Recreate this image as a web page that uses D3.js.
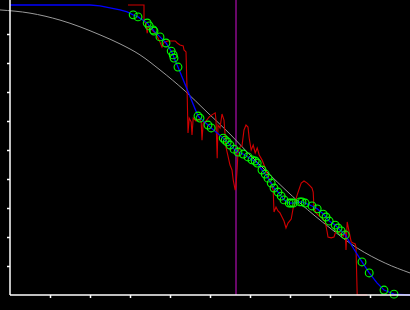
<!DOCTYPE html>
<html>
<head>
<meta charset="utf-8">
<script src="https://cdn.jsdelivr.net/npm/d3@7"></script>
<style>
  html, body { margin: 0; padding: 0; background: #000; }
  #chart svg { display: block; }
</style>
</head>
<body>
<div id="chart"></div>
<script>
// curva de referencia (gris)
const curvaRef = [
  [-0.25, 9.83], [0.5, 9.72], [1.25, 9.48], [2.25, 8.97], [2.75, 8.66],
  [3.25, 8.28], [3.75, 7.76], [4.38, 7.03], [4.9, 6.34], [5.5, 5.55],
  [5.88, 5.0], [6.5, 4.14], [7.25, 3.17], [8.0, 2.31], [8.68, 1.62],
  [9.38, 1.10], [10, 0.76]
];

// serie ruidosa (roja)
const serieRoja = [
  [2.95, 10], [3.35, 10], [3.35, 9.45], [3.4, 9.34], [3.43, 9.03], [3.45, 9.24],
  [3.53, 9.17], [3.58, 9.1], [3.65, 9.0], [3.7, 8.86], [3.75, 8.72], [3.8, 8.55],
  [3.85, 8.72], [3.95, 8.76], [4.13, 8.76], [4.18, 8.69], [4.25, 8.62], [4.33, 8.59],
  [4.35, 8.45], [4.4, 8.38], [4.43, 6.9], [4.45, 5.59], [4.48, 6.1], [4.53, 5.97],
  [4.55, 5.52], [4.58, 6.1], [4.65, 6.0], [4.73, 6.07], [4.78, 5.97], [4.8, 5.34],
  [4.83, 5.93], [4.9, 6.0], [4.98, 6.14], [5.05, 6.21], [5.13, 6.28], [5.15, 6.03],
  [5.18, 4.72], [5.2, 5.86], [5.25, 5.76], [5.3, 6.24], [5.35, 6.03], [5.4, 5.1],
  [5.45, 4.79], [5.5, 4.48], [5.55, 4.31], [5.58, 3.97], [5.63, 3.62], [5.65, 3.76],
  [5.68, 4.38], [5.7, 4.93], [5.75, 5.1], [5.8, 5.14], [5.85, 5.69], [5.9, 5.86],
  [5.95, 5.79], [5.98, 5.41], [6.03, 5.0], [6.08, 5.17], [6.13, 4.9], [6.18, 5.07],
  [6.23, 4.83], [6.3, 4.66], [6.38, 4.38], [6.45, 4.1], [6.53, 3.83], [6.58, 3.62],
  [6.6, 2.86], [6.65, 3.03], [6.7, 2.9], [6.75, 2.83], [6.8, 2.69], [6.85, 2.55],
  [6.9, 2.31], [6.95, 2.48], [7.03, 2.62], [7.08, 3.0], [7.13, 3.21], [7.18, 3.45],
  [7.23, 3.66], [7.28, 3.86], [7.35, 3.93], [7.43, 3.86], [7.5, 3.76], [7.55, 3.69],
  [7.58, 3.55], [7.6, 3.0], [7.65, 2.83], [7.73, 2.72], [7.8, 2.66], [7.88, 2.52],
  [7.93, 2.17], [7.95, 2.0], [8.03, 1.97], [8.1, 2.0], [8.15, 2.21], [8.2, 2.17],
  [8.25, 2.14], [8.33, 2.03], [8.38, 2.24], [8.4, 1.55], [8.43, 2.52], [8.48, 2.17],
  [8.53, 1.83], [8.58, 1.79], [8.63, 1.76], [8.65, 1.66], [8.68, 0], [8.93, 0]
];

// observaciones (círculos verdes)
const observados = [
  [3.08, 9.66], [3.2, 9.59], [3.43, 9.38], [3.48, 9.28], [3.58, 9.14], [3.6, 9.1],
  [3.75, 8.9], [3.9, 8.69], [4.03, 8.41], [4.08, 8.28], [4.1, 8.17], [4.2, 7.86],
  [4.7, 6.17], [4.75, 6.1], [4.95, 5.86], [5.03, 5.76], [5.33, 5.41], [5.38, 5.34],
  [5.43, 5.28], [5.5, 5.17], [5.6, 5.03], [5.7, 4.93], [5.83, 4.86], [5.95, 4.76],
  [6.05, 4.66], [6.13, 4.62], [6.18, 4.55], [6.3, 4.31], [6.38, 4.17], [6.45, 4.03],
  [6.53, 3.86], [6.6, 3.69], [6.7, 3.55], [6.78, 3.41], [6.85, 3.28], [6.98, 3.17],
  [7.03, 3.17], [7.08, 3.17], [7.25, 3.21], [7.3, 3.21], [7.38, 3.17], [7.55, 3.07],
  [7.68, 2.97], [7.83, 2.79], [7.9, 2.69], [7.98, 2.55], [8.13, 2.41], [8.2, 2.31],
  [8.28, 2.21], [8.38, 2.07], [8.8, 1.14], [8.98, 0.76], [9.35, 0.17], [9.6, 0.03]
];

// tramos del ajuste (azul) fuera de las observaciones
const ajusteInicio = [[0, 10], [2, 10], [2.25, 9.97], [2.5, 9.9], [2.75, 9.83], [2.93, 9.76]];
const ajusteFinal = [[8.58, 1.62], [9.18, 0.41], [10, 0]];

const marcaVertical = 5.65;
const ticksX = [1, 2, 3, 4, 5, 6, 7, 8, 9];
const ticksY = [1, 2, 3, 4, 5, 6, 7, 8, 9];

const width = 410;
const height = 310;
const x0 = 10;
const yBase = 295;

const x = d3.scaleLinear().domain([0, 10]).range([x0, 410]);
const y = d3.scaleLinear().domain([0, 10]).range([yBase, 5]);

const svg = d3.select("#chart")
  .append("svg")
  .attr("width", width)
  .attr("height", height);

svg.append("rect")
  .attr("width", width)
  .attr("height", height)
  .attr("fill", "#000");

// línea vertical morada
svg.append("line")
  .attr("x1", x(marcaVertical)).attr("x2", x(marcaVertical))
  .attr("y1", 0).attr("y2", y(0))
  .attr("stroke", "#8b0a8b")
  .attr("stroke-width", 1.5);

const linea = d3.line()
  .x(d => x(d[0]))
  .y(d => y(d[1]));

svg.append("path")
  .datum(curvaRef)
  .attr("fill", "none")
  .attr("stroke", "#9a9a9a")
  .attr("stroke-width", 1)
  .attr("d", linea.curve(d3.curveMonotoneX));

svg.append("path")
  .datum(serieRoja)
  .attr("fill", "none")
  .attr("stroke", "#d00000")
  .attr("stroke-width", 1.1)
  .attr("d", d3.line().x(d => x(d[0])).y(d => y(d[1])));

const ajuste = ajusteInicio.concat(observados, ajusteFinal).sort((a, b) => a[0] - b[0]);

svg.append("path")
  .datum(ajuste)
  .attr("fill", "none")
  .attr("stroke", "#0000ff")
  .attr("stroke-width", 1.3)
  .attr("d", d3.line().x(d => x(d[0])).y(d => y(d[1])));

svg.append("g")
  .selectAll("circle")
  .data(observados)
  .join("circle")
  .attr("cx", d => x(d[0]))
  .attr("cy", d => y(d[1]))
  .attr("r", 3.9)
  .attr("fill", "none")
  .attr("stroke", "#00ff00")
  .attr("stroke-width", 1.1);

// ejes
const ejeX = svg.append("g")
  .attr("transform", `translate(0,${yBase})`)
  .call(d3.axisBottom(x).tickValues(ticksX).tickSize(3).tickFormat(""));

const ejeY = svg.append("g")
  .attr("transform", `translate(${x0},0)`)
  .call(d3.axisLeft(y).tickValues(ticksY).tickSize(3).tickFormat(""));

[ejeX, ejeY].forEach(g => {
  g.select(".domain").remove();
  g.selectAll(".tick line").attr("stroke", "#fff").attr("stroke-width", 1.5);
});

svg.append("line")
  .attr("x1", x0).attr("x2", x0)
  .attr("y1", 0).attr("y2", yBase)
  .attr("stroke", "#fff").attr("stroke-width", 1.5);

svg.append("line")
  .attr("x1", x0).attr("x2", width)
  .attr("y1", yBase).attr("y2", yBase)
  .attr("stroke", "#fff").attr("stroke-width", 1.5);
</script>
</body>
</html>
